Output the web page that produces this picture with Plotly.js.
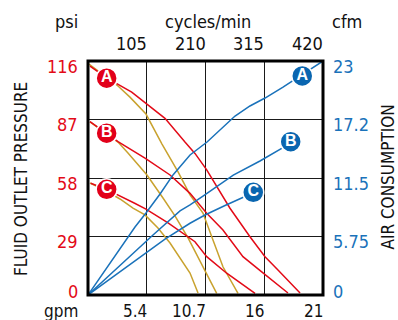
<!DOCTYPE html>
<html><head><meta charset="utf-8">
<script src="https://cdn.plot.ly/plotly-3.0.1.min.js"></script>
<style>html,body{margin:0;padding:0;background:#fff}#chart{width:398px;height:320px}</style>
</head><body><div id="chart"></div>
<script>
// ---- data ----
const gpmTicks = [5.35, 10.7, 16.05, 21.4];
const gpmLabels = ["5.4", "10.7", "16", "21"];
const cycleTicks = [105, 210, 315, 420];
const cycleLabels = ["105", "210", "315", "420"];
const psiTicks = [0, 29, 58, 87, 116];
const psiLabels = ["0", "29", "58", "87", "116"];
const cfmTicks = [0, 5.75, 11.5, 17.25, 23];
const cfmLabels = ["0", "5.75", "11.5", "17.2", "23"];

// fluid outlet pressure (psi) vs flow (gpm) - red curves
const redA_x = [0.18, 1.70, 3.98, 5.35, 7.01, 8.83, 9.74, 10.81, 11.56, 12.93, 14.75, 16.12, 17.30, 19.31];
const redA_y = [113.5, 107.6, 100.6, 94.7, 87.6, 75.8, 70.2, 62.0, 55.4, 43.0, 28.9, 19.0, 12.4, 1.0];
const redB_x = [0.18, 1.70, 2.73, 5.19, 7.47, 9.29, 10.81, 12.29, 14.11, 15.82, 18.21];
const redB_y = [85.9, 80.2, 76.0, 67.8, 59.5, 50.4, 40.5, 32.2, 19.0, 11.5, 1.0];
const redC_x = [0.25, 1.64, 4.25, 5.28, 7.29, 7.92, 9.74, 10.81, 12.63, 15.21];
const redC_y = [55.4, 52.5, 45.5, 42.6, 35.7, 33.2, 26.4, 19.0, 10.8, 0.8];

// gold curves (psi)
const goldA_x = [0.09, 1.55, 2.73, 3.82, 5.28, 6.74, 8.20, 9.29, 10.47, 11.38, 12.29, 13.66];
const goldA_y = [114.5, 108.6, 103.6, 98.1, 89.7, 74.8, 61.0, 49.6, 40.6, 27.3, 14.0, 0.8];
const goldB_x = [0.18, 1.64, 2.73, 3.64, 4.74, 5.37, 6.83, 7.92, 9.11, 10.81, 11.72];
const goldB_y = [85.8, 80.3, 75.8, 70.4, 63.4, 59.5, 48.1, 39.2, 28.3, 10.8, 0.8];
const goldC_x = [0.18, 1.64, 2.91, 4.10, 5.19, 6.37, 7.47, 8.83, 9.29, 10.02];
const goldC_y = [55.5, 51.6, 47.6, 43.1, 39.7, 33.2, 25.8, 14.9, 10.9, 1.0];

// air consumption (cfm) - blue curves
const blueA_x = [0, 1.55, 3.00, 4.28, 5.28, 6.56, 7.74, 9.29, 10.84, 12.02, 13.39, 14.75, 16.12, 17.76, 19.31, 21.40];
const blueA_y = [0, 2.46, 4.72, 6.68, 8.06, 9.93, 11.80, 13.76, 15.04, 16.22, 17.59, 18.58, 19.36, 20.44, 21.53, 23.0];
const blueB_x = [0, 2.91, 5.92, 8.38, 9.29, 10.47, 13.23, 15.66, 18.03];
const blueB_y = [0, 2.95, 5.90, 8.26, 8.85, 9.73, 11.79, 13.17, 14.65];
const blueC_x = [0, 3.37, 7.01, 9.29, 10.65, 12.48, 14.30, 14.75];
const blueC_y = [0, 2.65, 5.50, 7.05, 7.86, 8.80, 9.63, 9.90];

// circle labels
const labelLetters = ["A", "B", "C"];
const redMark_x = [1.70, 1.70, 1.70];
const redMark_y = [107.5, 80.2, 52.4];
const blueMark_x = [19.51, 18.46, 15.05];
const blueMark_y = [21.53, 15.07, 10.09];

// ---- styling ----
const RED = '#E30A17', GOLD = '#C9A22E', BLUE = '#1A72BA';
const FONT = '"Liberation Sans Narrow", "DejaVu Sans Condensed", "Arial Narrow", sans-serif';
const FS = 18;

function line(x, y, color, yaxis) {
  return {x: x, y: y, type: 'scatter', mode: 'lines', yaxis: yaxis || 'y',
          line: {color: color, width: 1.5}, hoverinfo: 'skip', showlegend: false};
}
const markFont = {family: '"Liberation Sans", Arial, sans-serif', size: 16, color: '#fff', weight: 'bold'};
const traces = [
  line(goldA_x, goldA_y, GOLD), line(goldB_x, goldB_y, GOLD), line(goldC_x, goldC_y, GOLD),
  line(redA_x, redA_y, RED), line(redB_x, redB_y, RED), line(redC_x, redC_y, RED),
  line(blueA_x, blueA_y, BLUE, 'y2'), line(blueB_x, blueB_y, BLUE, 'y2'), line(blueC_x, blueC_y, BLUE, 'y2'),
  {x: redMark_x, y: redMark_y, text: labelLetters, type: 'scatter', mode: 'markers+text', yaxis: 'y',
   marker: {size: 21, color: '#E2001A', line: {color: '#fff', width: 1.5}},
   textposition: 'middle center', textfont: markFont,
   hoverinfo: 'skip', showlegend: false, cliponaxis: false},
  {x: blueMark_x, y: blueMark_y, text: labelLetters, type: 'scatter', mode: 'markers+text', yaxis: 'y2',
   marker: {size: 21, color: '#0A66B0', line: {color: '#fff', width: 1.5}},
   textposition: 'middle center', textfont: markFont,
   hoverinfo: 'skip', showlegend: false, cliponaxis: false}
];

const ann = [];
gpmTicks.forEach((v, i) => ann.push({xref: 'x', yref: 'paper', x: v, y: 0, xanchor: 'right', yanchor: 'middle',
  yshift: -16, xshift: 2, text: gpmLabels[i], showarrow: false, font: {color: '#111', size: 17}}));
cycleTicks.forEach((v, i) => ann.push({xref: 'x2', yref: 'paper', x: v, y: 1, xanchor: 'right', yanchor: 'middle',
  yshift: 17.5, xshift: 2, text: cycleLabels[i], showarrow: false, font: {color: '#111', size: FS}}));
psiTicks.forEach((v, i) => ann.push({xref: 'paper', yref: 'y', x: 0, y: v, xanchor: 'right', yanchor: 'middle',
  xshift: -8, yshift: v === 0 ? 4 : -5, text: psiLabels[i], showarrow: false, font: {color: RED, size: FS}}));
cfmTicks.forEach((v, i) => ann.push({xref: 'paper', yref: 'y2', x: 1, y: v, xanchor: 'left', yanchor: 'middle',
  xshift: 8, yshift: v === 0 ? 4 : -5, text: cfmLabels[i], showarrow: false, font: {color: BLUE, size: FS}}));
ann.push({xref: 'paper', yref: 'paper', x: 0, y: 1, xanchor: 'right', yanchor: 'middle', xshift: -8, yshift: 40,
  text: 'psi', showarrow: false, font: {color: '#111', size: FS}});
ann.push({xref: 'paper', yref: 'paper', x: 0.511, y: 1, xanchor: 'center', yanchor: 'middle', yshift: 40,
  text: 'cycles/min', showarrow: false, font: {color: '#111', size: FS}});
ann.push({xref: 'paper', yref: 'paper', x: 1, y: 1, xanchor: 'left', yanchor: 'middle', xshift: 7, yshift: 40,
  text: 'cfm', showarrow: false, font: {color: '#111', size: FS}});
ann.push({xref: 'paper', yref: 'paper', x: 0, y: 0, xanchor: 'right', yanchor: 'middle', xshift: -8, yshift: -16,
  text: 'gpm', showarrow: false, font: {color: '#111', size: 17}});
ann.push({xref: 'paper', yref: 'paper', x: 0, y: 0.496, xanchor: 'center', yanchor: 'middle', xshift: -67,
  textangle: -90, text: 'FLUID OUTLET PRESSURE', showarrow: false, font: {color: '#111', size: 17}});
ann.push({xref: 'paper', yref: 'paper', x: 1, y: 0.502, xanchor: 'center', yanchor: 'middle', xshift: 65,
  textangle: -90, text: 'AIR CONSUMPTION', showarrow: false, font: {color: '#111', size: 17}});

const grid = {showgrid: true, gridcolor: '#1a1a1a', gridwidth: 1, zeroline: false, showticklabels: false,
  ticks: '', showline: false, fixedrange: true};
const layout = {
  width: 398, height: 320,
  margin: {l: 88, r: 75, t: 61, b: 25, pad: 0},
  paper_bgcolor: '#fff', plot_bgcolor: '#fff',
  font: {family: FONT, size: FS, color: '#111'},
  showlegend: false,
  xaxis: Object.assign({}, grid, {range: [0, 21.4], tickmode: 'array', tickvals: gpmTicks}),
  xaxis2: {overlaying: 'x', side: 'top', range: [0, 420], showgrid: false, showticklabels: false,
    zeroline: false, ticks: '', fixedrange: true},
  yaxis: Object.assign({}, grid, {range: [0, 116], tickmode: 'array', tickvals: psiTicks}),
  yaxis2: {overlaying: 'y', side: 'right', range: [0, 23], showgrid: false, showticklabels: false,
    zeroline: false, ticks: '', fixedrange: true},
  shapes: [{type: 'rect', xref: 'paper', yref: 'paper', x0: 0, x1: 1, y0: 0, y1: 1,
    line: {color: '#000', width: 3}, layer: 'above'}],
  annotations: ann
};
Plotly.newPlot('chart', traces, layout, {displayModeBar: false, staticPlot: true});
</script></body></html>
